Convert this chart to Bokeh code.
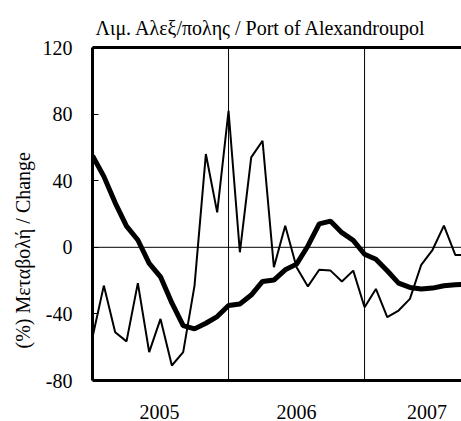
from bokeh.plotting import figure
from bokeh.models import Range1d, LinearAxis, FixedTicker, Span, Title
from bokeh.embed import file_html
from bokeh.resources import INLINE

# monthly index (0 = Jan 2005)
months = list(range(34))
# thin line: monthly % change
monthly_change = [-54, -23, -51, -56.5, -21.5, -63, -43, -71, -63, -23, 56, 21,
                  82, -3, 54, 64, -12, 13, -12, -23.5, -13.5, -14, -20.5, -14,
                  -36, -25, -42, -38, -31, -10.5, -1.5, 13, -4.6, -4.6]
# thick line: moving average of % change
moving_avg = [55, 42.6, 26.7, 12.7, 4.4, -9.6, -17.7, -33.4, -47, -49, -45.6, -41.6,
              -35, -34, -28.7, -20.5, -19.7, -13.5, -10.1, 0.8, 14.1, 15.7, 8.8, 4.2,
              -4.2, -7.2, -14.1, -21.5, -24.1, -25.1, -24.5, -23.1, -22.5, -22.3]
y_ticks = [-80, -40, 0, 40, 80, 120]
y_tick_labels = ["-80", "-40", "0", "40", "80", "120"]
year_labels = ["2005", "2006", "2007"]
year_label_pos = [5.9, 18, 29.5]
year_boundaries = [12, 24]

FONT = "Liberation Serif"

p = figure(width=461, height=421, output_backend="svg", toolbar_location=None,
           x_range=Range1d(0, 32.55), y_range=Range1d(-80, 120),
           min_border_left=92, min_border_right=0, min_border_top=47, min_border_bottom=39,
           x_axis_location=None, y_axis_location=None)
p.grid.visible = False
p.outline_line_color = None
p.background_fill_color = "white"
p.border_fill_color = "white"

p.line(months, monthly_change, line_color="black", line_width=2)
p.line(months, moving_avg, line_color="black", line_width=5)

for b in year_boundaries:
    p.add_layout(Span(location=b, dimension="height", line_color="black", line_width=1))
p.add_layout(Span(location=0, dimension="width", line_color="black", line_width=1))

# left axis
yaxis = LinearAxis(ticker=FixedTicker(ticks=y_ticks))
yaxis.major_label_overrides = {t: s for t, s in zip(y_ticks, y_tick_labels)}
yaxis.axis_line_width = 3
yaxis.axis_line_color = "black"
yaxis.major_tick_in = 6
yaxis.major_tick_out = 0
yaxis.major_tick_line_width = 1
yaxis.minor_tick_line_color = None
yaxis.major_label_text_font = FONT
yaxis.major_label_text_font_size = "20px"
yaxis.major_label_text_color = "black"
yaxis.major_label_standoff = 20
p.add_layout(yaxis, "left")

# bottom axis
xaxis = LinearAxis(ticker=FixedTicker(ticks=year_label_pos))
xaxis.major_label_overrides = {pos: lab for pos, lab in zip(year_label_pos, year_labels)}
xaxis.axis_line_width = 3
xaxis.axis_line_color = "black"
xaxis.major_tick_line_color = None
xaxis.minor_tick_line_color = None
xaxis.major_label_text_font = FONT
xaxis.major_label_text_font_size = "20px"
xaxis.major_label_text_color = "black"
xaxis.major_label_standoff = 18
p.add_layout(xaxis, "below")

# top border
taxis = LinearAxis(ticker=FixedTicker(ticks=[]))
taxis.axis_line_width = 3
taxis.axis_line_color = "black"
taxis.major_tick_line_color = None
taxis.minor_tick_line_color = None
taxis.major_label_text_font_size = "0px"
p.add_layout(taxis, "above")

p.add_layout(Title(text="Λιμ. Αλεξ/πολης / Port of Alexandroupol", align="left", offset=3,
                   standoff=18, text_font=FONT, text_font_size="20px",
                   text_font_style="normal", text_color="black"), "above")
p.add_layout(Title(text="(%) Μεταβολή / Change", align="left", offset=32,
                   standoff=11, text_font=FONT, text_font_size="20px",
                   text_font_style="normal", text_color="black"), "left")

open("out.html", "w").write(file_html(p, INLINE))
